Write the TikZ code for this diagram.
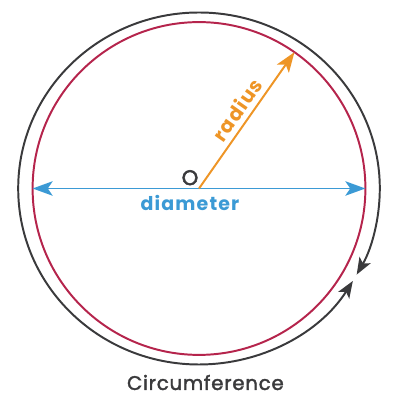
\documentclass[tikz,border=0pt]{standalone}
\usepackage{fontspec}
\setmainfont{Poppins}
\newfontfamily\spacedfont[LetterSpace=4,FakeBold=2]{Poppins}
\newfontfamily\labelfont[LetterSpace=6]{Poppins}
\newfontfamily\ringfont[FakeBold=2.5]{Poppins}
\usepackage{tikz}
\usetikzlibrary{arrows.meta,calc,positioning}
\definecolor{rimred}{RGB}{181,36,76}
\definecolor{darkrim}{RGB}{58,58,60}
\definecolor{diamblue}{RGB}{59,154,213}
\definecolor{radorange}{RGB}{238,149,38}
\tikzset{
  tip/.style={-{Stealth[length=0.5cm,width=0.36cm,inset=0.12cm]}},
  twotip/.style={{Stealth[length=0.5cm,width=0.36cm,inset=0.12cm]}-{Stealth[length=0.5cm,width=0.36cm,inset=0.12cm]}},
  rimtip/.style={-{Stealth[length=0.42cm,width=0.32cm,inset=0.1cm]}}
}

\begin{document}
\begin{tikzpicture}[line width=1.4pt]
  \useasboundingbox (-4.975,-5.2875) rectangle (5.025,4.7125);
  \coordinate (O) at (0,0);
  \coordinate (L) at (180:4.16);
  \coordinate (R) at (0:4.16);
  \coordinate (P) at (55:4.16);
  \coordinate (T) at (0,4.4);
  % circle and circumference
  \draw[rimred] (O) circle (4.16);
  \draw[darkrim,rimtip] (T) arc[start angle=90,end angle=-29.3,x radius=4.52,y radius=4.4];
  \draw[darkrim,rimtip] (T) arc[start angle=90,end angle=328.3,x radius=4.52,y radius=4.4];
  % diameter and radius
  \draw[diamblue,twotip] (L)--(R);
  \draw[radorange,tip] (O)--(P)
    node[pos=0.52,sloped,above=0pt,text=radorange,font=\labelfont\bfseries\fontsize{14}{14}\selectfont]{radius};
  \node[text=darkrim,font=\ringfont\fontsize{15}{15}\selectfont] (centre) at (-0.225,0.27) {O};
  \node[text=diamblue,font=\labelfont\bfseries\fontsize{13.5}{13.5}\selectfont] (diam) at (-0.225,-0.37) {diameter};
  \node[text=darkrim,font=\spacedfont\fontsize{14}{14}\selectfont] (circ) at (0.16,-4.85) {Circumference};
\end{tikzpicture}
\end{document}
